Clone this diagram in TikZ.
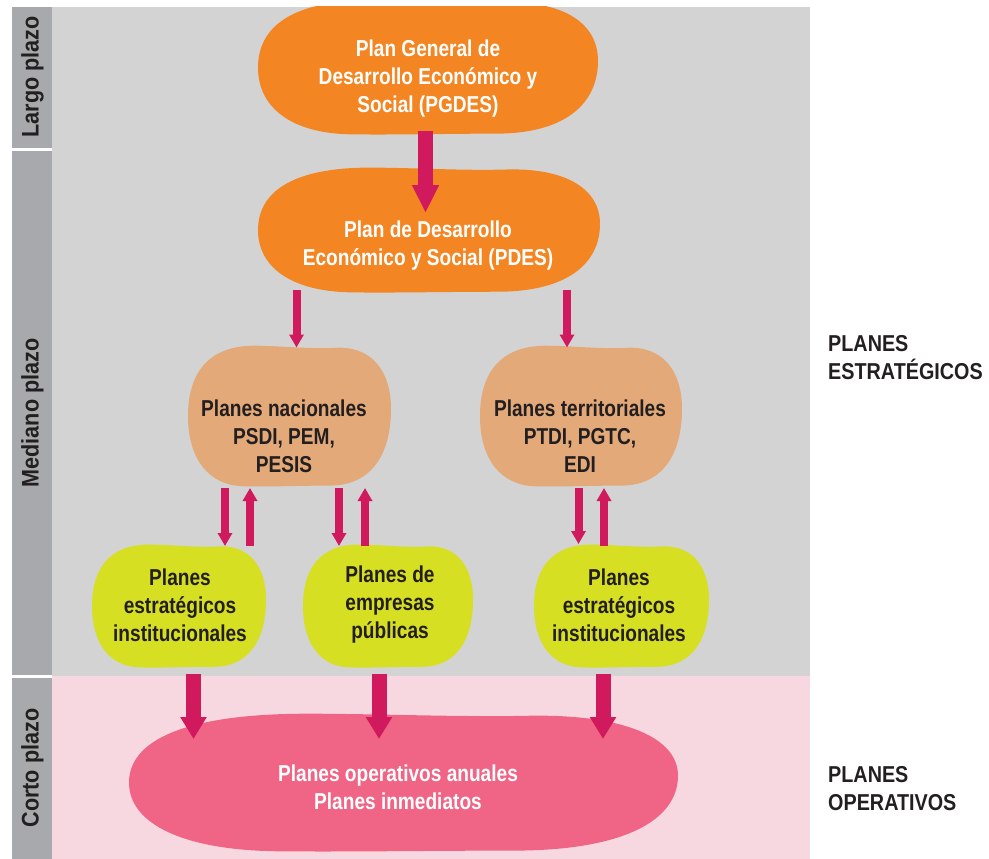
\documentclass[tikz,border=0pt]{standalone}
\usepackage{fontspec}
\setmainfont{Liberation Sans}[FakeStretch=0.83]
\newfontfamily\sidefont{Liberation Sans}[FakeStretch=0.9]
\newfontfamily\rightfont{Liberation Sans}[FakeStretch=0.86]
\usetikzlibrary{arrows.meta,calc}
\definecolor{panelgrey}{HTML}{D3D3D3}
\definecolor{sidegrey}{HTML}{A7A9AC}
\definecolor{panelpink}{HTML}{F8D8E0}
\definecolor{orangeblob}{HTML}{F38522}
\definecolor{tanblob}{HTML}{E3A979}
\definecolor{greenblob}{HTML}{D7DF23}
\definecolor{pinkblob}{HTML}{F06585}
\definecolor{arrowred}{HTML}{D1195E}
\definecolor{darktext}{HTML}{231F20}
% blob: centre x, centre y, half width, half height, colour
\newcommand\blobfill[5]{%
  \begin{scope}[shift={(#1,#2)},xscale=#3,yscale=#4]
  \fill[#5] (-1,0) .. controls (-1,-0.6) and (-0.8,-0.99) .. (-0.35,-0.99)
    .. controls (-0.1,-0.99) and (0.2,-0.94) .. (0.45,-0.96)
    .. controls (0.8,-0.99) and (1,-0.65) .. (1,-0.1)
    .. controls (1,0.55) and (0.8,0.98) .. (0.4,0.98)
    .. controls (0.1,0.98) and (-0.2,1.0) .. (-0.45,0.99)
    .. controls (-0.8,0.98) and (-1,0.6) .. (-1,0) -- cycle;
  \end{scope}}
\begin{document}
\begin{tikzpicture}[x=1pt,y=-1pt,
  txtw/.style={font=\bfseries\fontsize{23}{28}\selectfont,align=center,text=white,inner sep=0pt},
  txtd/.style={font=\bfseries\fontsize{23}{28}\selectfont,align=center,text=darktext,inner sep=0pt},
  sidelbl/.style={font=\sidefont\bfseries\fontsize{24}{28}\selectfont,text=darktext,inner sep=0pt,rotate=90},
  rightlbl/.style={font=\rightfont\bfseries\fontsize{23}{28}\selectfont,text=darktext,align=left,anchor=west,inner sep=0pt},
  bigarrow/.style={draw=arrowred,line width=15pt,-{Triangle[width=25pt,length=22pt]}},
  smallarrow/.style={draw=arrowred,line width=8pt,-{Triangle[width=14pt,length=13pt]}}]
\useasboundingbox (0,0) rectangle (989,859);
% panels
\fill[panelgrey] (52,7) rectangle (810,676);
\fill[panelpink] (52,676) rectangle (810,859);
\fill[sidegrey] (12,7) rectangle (52,148);
\fill[sidegrey] (12,151) rectangle (52,675);
\fill[sidegrey] (12,678) rectangle (52,859);
\node[sidelbl] (largo) at (32.5,77) {Largo plazo};
\node[sidelbl] (mediano) at (32.5,413) {Mediano plazo};
\node[sidelbl] (corto) at (32.5,768) {Corto plazo};
% blobs
\begin{scope}
\clip (52,7) rectangle (810,859);
\blobfill{428}{67.5}{170}{67.5}{orangeblob}
\blobfill{429}{230}{171}{63}{orangeblob}
\blobfill{289.5}{416}{101.5}{71}{tanblob}
\blobfill{581}{416}{101}{71}{tanblob}
\blobfill{179}{606}{87}{62}{greenblob}
\blobfill{388}{606}{85}{62}{greenblob}
\blobfill{621.5}{606}{87.5}{62}{greenblob}
\blobfill{403.5}{782.5}{274.5}{69.5}{pinkblob}
\end{scope}
% texts
\node[txtw] (pgdes) at (428,79) {Plan General de\\Desarrollo Económico y\\Social (PGDES)};
\node[txtw] (pdes) at (428,246) {Plan de Desarrollo\\Económico y Social (PDES)};
\node[txtd] (nac) at (284,436) {Planes nacionales\\PSDI, PEM,\\PESIS};
\node[txtd] (ter) at (580,436) {Planes territoriales\\PTDI, PGTC,\\EDI};
\node[txtd] (g1) at (180,605) {Planes\\estratégicos\\institucionales};
\node[txtd] (g2) at (390,605) {Planes de\\empresas\\públicas};
\node[txtd] (g3) at (619,605) {Planes\\estratégicos\\institucionales};
\node[txtw] (op) at (398,787) {Planes operativos anuales\\Planes inmediatos};
\node[rightlbl] (pe) at (828,358) {PLANES\\ESTRATÉGICOS};
\node[rightlbl] (po) at (828,789) {PLANES\\OPERATIVOS};
% arrows
\draw[bigarrow,-{Triangle[width=25pt,length=28pt]}] ($(pgdes)+(-2.5,52)$) -- ($(pdes)+(-2.5,-33)$);
\draw[smallarrow] ($(pdes)+(-131.5,44)$) -- ($(nac)+(12.5,-88.5)$);
\draw[smallarrow] ($(pdes)+(139,44)$) -- ($(ter)+(-13,-88.5)$);
\draw[smallarrow] ($(nac)+(-59,52)$) -- ($(g1)+(45,-59)$);
\draw[smallarrow] ($(g1)+(70,-59)$) -- ($(nac)+(-34,52)$);
\draw[smallarrow] ($(nac)+(55,52)$) -- ($(g2)+(-51,-59)$);
\draw[smallarrow] ($(g2)+(-25,-59)$) -- ($(nac)+(81,52)$);
\draw[smallarrow] ($(ter)+(-1.5,52)$) -- ($(g3)+(-40.5,-61)$);
\draw[smallarrow] ($(g3)+(-15,-59)$) -- ($(ter)+(24,52)$);
\draw[bigarrow] ($(g1)+(13.5,69)$) -- ($(op)+(-204.5,-48)$);
\draw[bigarrow] ($(g2)+(-11,69)$) -- ($(op)+(-19,-48)$);
\draw[bigarrow] ($(g3)+(-16,69)$) -- ($(op)+(205,-48)$);
\end{tikzpicture}
\end{document}
